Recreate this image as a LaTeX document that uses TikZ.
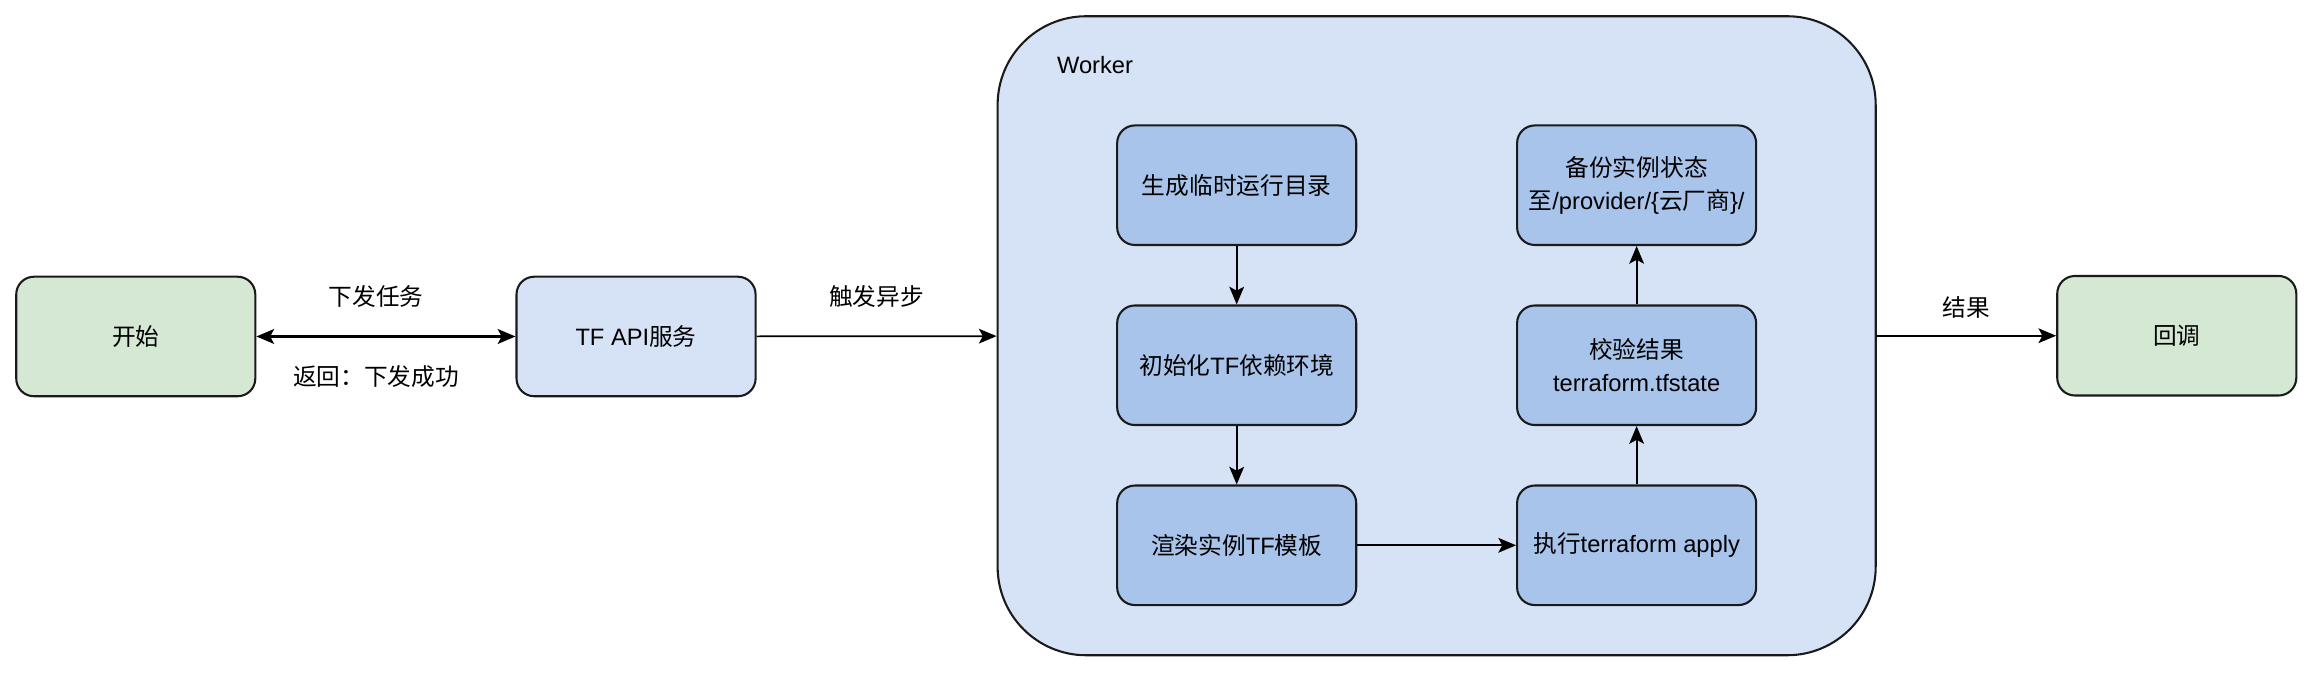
\documentclass[tikz,border=0pt]{standalone}
\usepackage{fontspec}
\setmainfont{Liberation Sans}
\newfontfamily\cjk{Noto Sans CJK SC}
\newcommand{\zh}[1]{{\cjk #1}}
\usepackage{tikz}
\usetikzlibrary{positioning,arrows.meta}
\definecolor{startgreen}{HTML}{D5E8D4}
\definecolor{lightblue}{HTML}{D6E3F6}
\definecolor{stepblue}{HTML}{A9C4EB}
\definecolor{linegray}{HTML}{1A1A1A}

\begin{document}
\begin{tikzpicture}[node distance=3.66cm,on grid,font=\fontsize{13.7}{19}\selectfont,
	box/.style={draw=linegray,rounded corners=0.36cm,minimum width=4.86cm,minimum height=2.43cm,line width=1.2pt,align=center},
	endbox/.style={box,fill=startgreen},
	apibox/.style={box,fill=lightblue},
	stepbox/.style={box,fill=stepblue},
	lbl/.style={midway,align=center},
	>={Stealth[length=0.36cm,width=0.3cm,inset=0.08cm]},line width=1pt]
	\useasboundingbox (0,0) rectangle (47.04,-13.71);
	\node[draw=linegray,fill=lightblue,rounded corners=1.8cm,line width=1.2pt,minimum width=17.85cm,minimum height=12.99cm] (worker) at (29.205,-6.825) {};
	\node (workerlbl) at (22.26,-1.32) {Worker};
	\node[endbox] (start) at (2.76,-6.84) {\zh{开始}};
	\node[apibox] (api) [right=10.17cm of start] {TF API\zh{服务}};
	\node[endbox] (callback) [right=15.045cm of worker] {\zh{回调}};
	\node[stepbox] (gendir) at (25.14,-3.765) {\zh{生成临时运行目录}};
	\node[stepbox] (initenv) [below=of gendir] {\zh{初始化}TF\zh{依赖环境}};
	\node[stepbox] (render) [below=of initenv] {\zh{渲染实例}TF\zh{模板}};
	\node[stepbox] (apply) [right=8.13cm of render] {\zh{执行}terraform apply};
	\node[stepbox] (check) [above=of apply] {\zh{校验结果}\\terraform.tfstate};
	\node[stepbox] (backup) [above=of check] {\zh{备份实例状态}\\\zh{至}/provider/\{\zh{云厂商}\}/};
	\path[<->,line width=1.6pt]
	(start) edge node[lbl,xshift=-0.2cm,yshift=0.81cm] {\zh{下发任务}}
	node[lbl,xshift=-0.2cm,yshift=-0.81cm] {\zh{返回：下发成功}} (api);
	\path[->]
	(api) edge node[lbl,yshift=0.81cm] {\zh{触发异步}} (worker)
	(worker) edge node[lbl,yshift=0.57cm] {\zh{结果}} (callback)
	(gendir) edge (initenv)
	(initenv) edge (render)
	(render) edge (apply)
	(apply) edge (check)
	(check) edge (backup);
\end{tikzpicture}
\end{document}
